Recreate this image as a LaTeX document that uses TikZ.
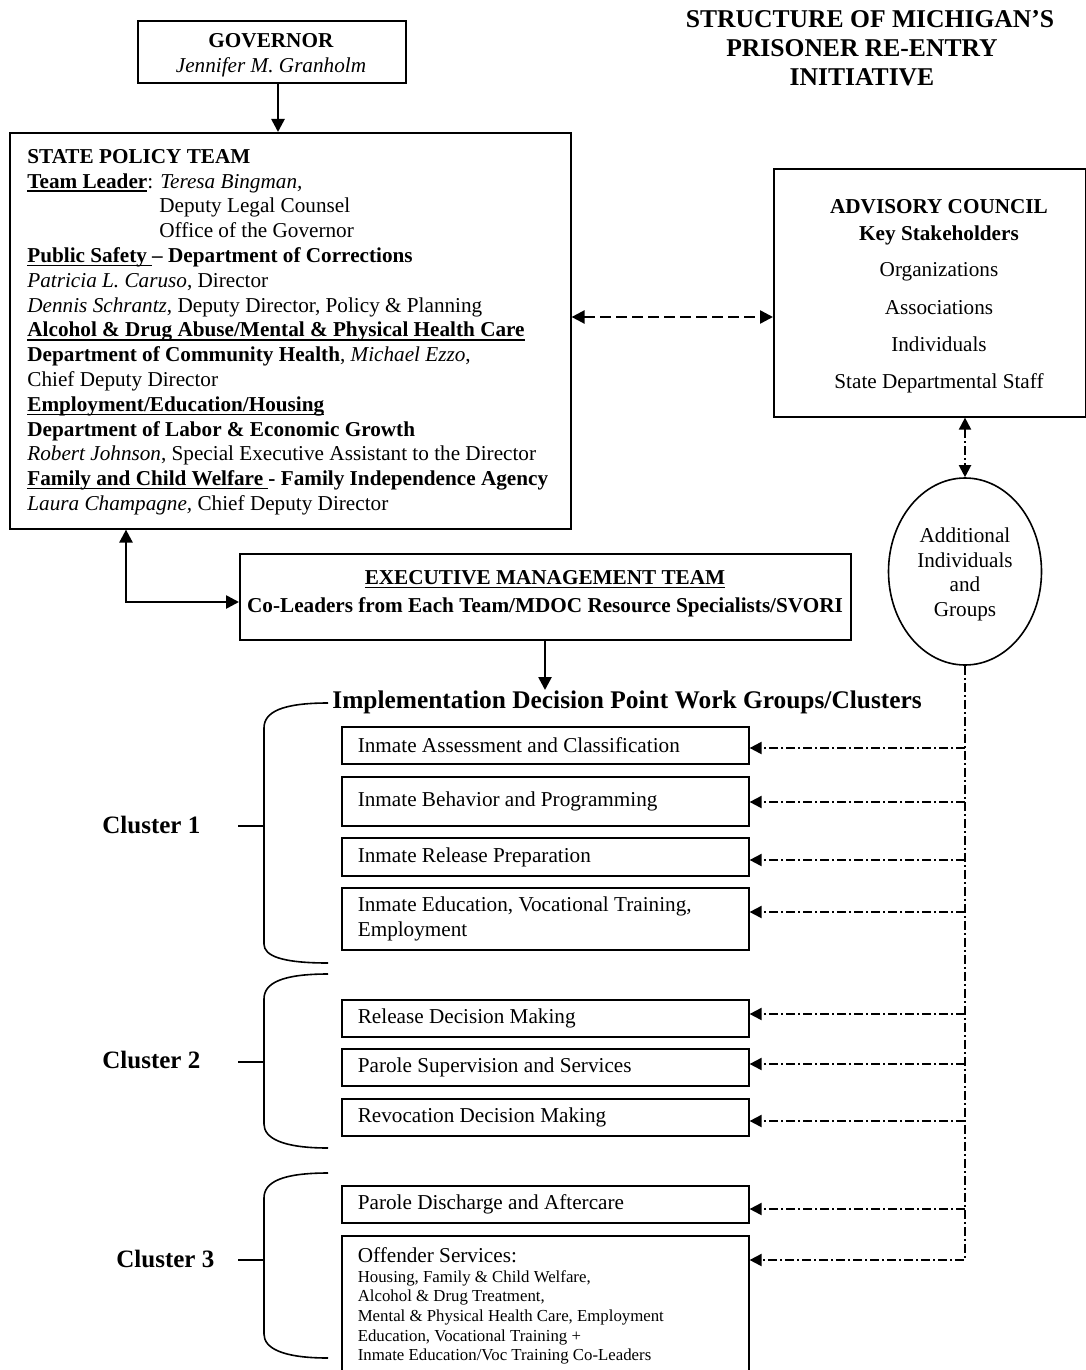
\documentclass[tikz,border=0pt]{standalone}
\usepackage{fontspec}
\setmainfont{Liberation Serif}
\usetikzlibrary{arrows.meta,shapes.geometric}
\newcommand\myul[1]{\setbox0=\hbox{#1}\rlap{\rule[-1.8pt]{\wd0}{0.7pt}}\box0}
\newcommand\myfn{\fontsize{10.6}{12.4}\selectfont}
\begin{document}
\begin{tikzpicture}[x=0.5pt,y=-0.5pt,
  box/.style={draw,line width=0.8pt,inner sep=0pt},
  wbox/.style={draw,line width=0.8pt,anchor=west,text width=187.5pt,inner xsep=8pt,inner ysep=0pt,align=flush left,font=\myfn},
  txt/.style={inner sep=0pt,font=\myfn},
  brk/.style={line width=0.8pt},
  solidar/.style={line width=1.3pt,-{Triangle[length=6.5pt,width=6.5pt]}},
  dashar/.style={line width=1.2pt,dash pattern=on 5.5pt off 2.5pt,{Triangle[length=6.5pt,width=6.5pt]}-{Triangle[length=6.5pt,width=6.5pt]}},
  ddline/.style={line width=1pt,dash pattern=on 4.5pt off 1.5pt on 1pt off 1.5pt},
  ddar/.style={ddline,-{Triangle[length=6pt,width=6pt]}},
  ddbi/.style={ddline,{Triangle[length=6pt,width=6pt]}-{Triangle[length=6pt,width=6pt]}}
]
\useasboundingbox (0,0) rectangle (1086,1370);
\clip (0,0) rectangle (1086,1370);

% title
\node[txt,font=\fontsize{12.8}{14.5}\selectfont\bfseries,align=center,anchor=north] (title) at (862,6.7)
  {\strut\hspace*{8pt}STRUCTURE OF MICHIGAN’S\\PRISONER RE-ENTRY\\INITIATIVE};

% governor
\node[box,minimum width=134pt,minimum height=31pt,anchor=north west] (gov) at (137,20) {};
\node[txt,align=center,anchor=north] (govt) at (271,29.6) {\strut\textbf{GOVERNOR}\\\textit{Jennifer M. Granholm}};

% state policy team
\node[box,minimum width=280.5pt,minimum height=198pt,anchor=north west] (sp) at (9,132) {};
\node[txt,align=left,anchor=north west] (spt) at (27,145.6) {\strut\textbf{STATE POLICY TEAM}\\
\textbf{\myul{Team Leader}}: \textit{Teresa Bingman,}\\
\hspace*{66pt}Deputy Legal Counsel\\
\hspace*{66pt}Office of the Governor\\
\textbf{\myul{Public Safety\ }– Department of Corrections}\\
\textit{Patricia L. Caruso}, Director\\
\textit{Dennis Schrantz}, Deputy Director, Policy \& Planning\\
\textbf{\myul{Alcohol \& Drug Abuse/Mental \& Physical Health Care}}\\
\textbf{Department of Community Health}, \textit{Michael Ezzo},\\
Chief Deputy Director\\
\textbf{\myul{Employment/Education/Housing}}\\
\textbf{Department of Labor \& Economic Growth}\\
\textit{Robert Johnson}, Special Executive Assistant to the Director\\
\textbf{\myul{Family and Child Welfare\ }- Family Independence Agency}\\
\textit{Laura Champagne,} Chief Deputy Director};

% advisory council
\node[box,minimum width=156pt,minimum height=124pt,anchor=north west] (adv) at (773,168) {};
\node[txt,align=center,anchor=north] (advt) at (939,195.6) {\strut\textbf{ADVISORY COUNCIL}\\[1pt]
\textbf{Key Stakeholders}\\[6pt]
Organizations\\[6.5pt]
Associations\\[6pt]
Individuals\\[6pt]
State Departmental Staff};

% ellipse
\node[draw,ellipse,line width=0.8pt,minimum width=76.5pt,minimum height=93.5pt,inner sep=0pt] (ell) at (965,571.5) {};
\node[txt,align=center,anchor=north] (ellt) at (965,524.6) {\strut Additional\\Individuals\\and\\Groups};

% executive management team
\node[box,minimum width=305.5pt,minimum height=43pt,anchor=north west] (exec) at (239,553) {};
\node[txt,align=center,anchor=north,font=\myfn\bfseries] (exect) at (545,566.6)
  {\strut\myul{EXECUTIVE MANAGEMENT TEAM}\\[1.6pt]Co-Leaders from Each Team/MDOC Resource Specialists/SVORI};

% implementation heading
\node[inner sep=0pt,anchor=base west,font=\fontsize{12.7}{14.5}\selectfont\bfseries] (impl) at (332,708)
  {Implementation Decision Point Work Groups/Clusters};

% cluster labels
\node[inner sep=0pt,anchor=base west,font=\fontsize{12.5}{14}\selectfont\bfseries] (c1) at (102,833) {Cluster 1};
\node[inner sep=0pt,anchor=base west,font=\fontsize{12.5}{14}\selectfont\bfseries] (c2) at (102,1068) {Cluster 2};
\node[inner sep=0pt,anchor=base west,font=\fontsize{12.5}{14}\selectfont\bfseries] (c3) at (116,1267) {Cluster 3};

% work group boxes
\node[wbox,minimum height=18.5pt] (b1) at (341,745.5) {Inmate Assessment and Classification};
\node[wbox,minimum height=24.5pt] (b2) at (341,801.5) {Inmate Behavior and Programming};
\node[wbox,minimum height=19pt] (b3) at (341,857) {Inmate Release Preparation};
\node[wbox,minimum height=31pt] (b4) at (341,919) {Inmate Education, Vocational Training,\\Employment};
\node[wbox,minimum height=18.5pt] (b5) at (341,1018.5) {Release Decision Making};
\node[wbox,minimum height=18.5pt] (b6) at (341,1067.5) {Parole Supervision and Services};
\node[wbox,minimum height=18.5pt] (b7) at (341,1117.5) {Revocation Decision Making};
\node[wbox,minimum height=18.5pt] (b8) at (341,1204.5) {Parole Discharge and Aftercare};
\node[wbox,anchor=north west,inner ysep=6pt] (b9) at (341,1235) {Offender Services:\par
{\fontsize{8.4}{9.8}\selectfont Housing, Family \& Child Welfare,\\
Alcohol \& Drug Treatment,\\
Mental \& Physical Health Care, Employment\\
Education, Vocational Training +\\
Inmate Education/Voc Training Co-Leaders\par}};

% brackets
\draw[brk] (328,703) .. controls (282,703) and (264,712) .. (264,728) -- (264,944) .. controls (264,956) and (282,963) .. (328,963);
\draw[brk] (238,826) -- (264,826);
\draw[brk] (328,974) .. controls (282,974) and (264,983) .. (264,999) -- (264,1124) .. controls (264,1138) and (282,1148) .. (328,1148);
\draw[brk] (238,1062) -- (264,1062);
\draw[brk] (328,1173) .. controls (282,1173) and (264,1182) .. (264,1198) -- (264,1334) .. controls (264,1348) and (282,1358) .. (328,1358);
\draw[brk] (238,1260) -- (264,1260);

% solid connectors
\coordinate (ga) at (278,0);
\draw[solidar] (gov.south -| ga) -- (sp.north -| ga);
\coordinate (ja) at (126,602);
\draw[solidar,{Triangle[length=6.5pt,width=6.5pt]}-{Triangle[length=6.5pt,width=6.5pt]}] (sp.south -| ja) |- (exec.west |- ja);
\coordinate (ea) at (545,690);
\draw[solidar] (exec.south -| ea) -- (ea);

% dashed connector
\coordinate (da) at (0,317);
\draw[dashar] (sp.east |- da) -- (adv.west |- da);

% dash-dot connectors
\draw[ddbi] (adv.south -| ell.north) -- (ell.north);
\coordinate (bus) at (965,1260);
\draw[ddar] (ell.south) -- (bus) -- (b9.east |- bus);
\coordinate (t1) at (965,748);
\coordinate (t2) at (965,802);
\coordinate (t3) at (965,860);
\coordinate (t4) at (965,912);
\coordinate (t5) at (965,1014);
\coordinate (t6) at (965,1064);
\coordinate (t7) at (965,1121);
\coordinate (t8) at (965,1209);
\draw[ddar] (t1) -- (t1 -| b1.east);
\draw[ddar] (t2) -- (t2 -| b2.east);
\draw[ddar] (t3) -- (t3 -| b3.east);
\draw[ddar] (t4) -- (t4 -| b4.east);
\draw[ddar] (t5) -- (t5 -| b5.east);
\draw[ddar] (t6) -- (t6 -| b6.east);
\draw[ddar] (t7) -- (t7 -| b7.east);
\draw[ddar] (t8) -- (t8 -| b8.east);
\end{tikzpicture}
\end{document}
